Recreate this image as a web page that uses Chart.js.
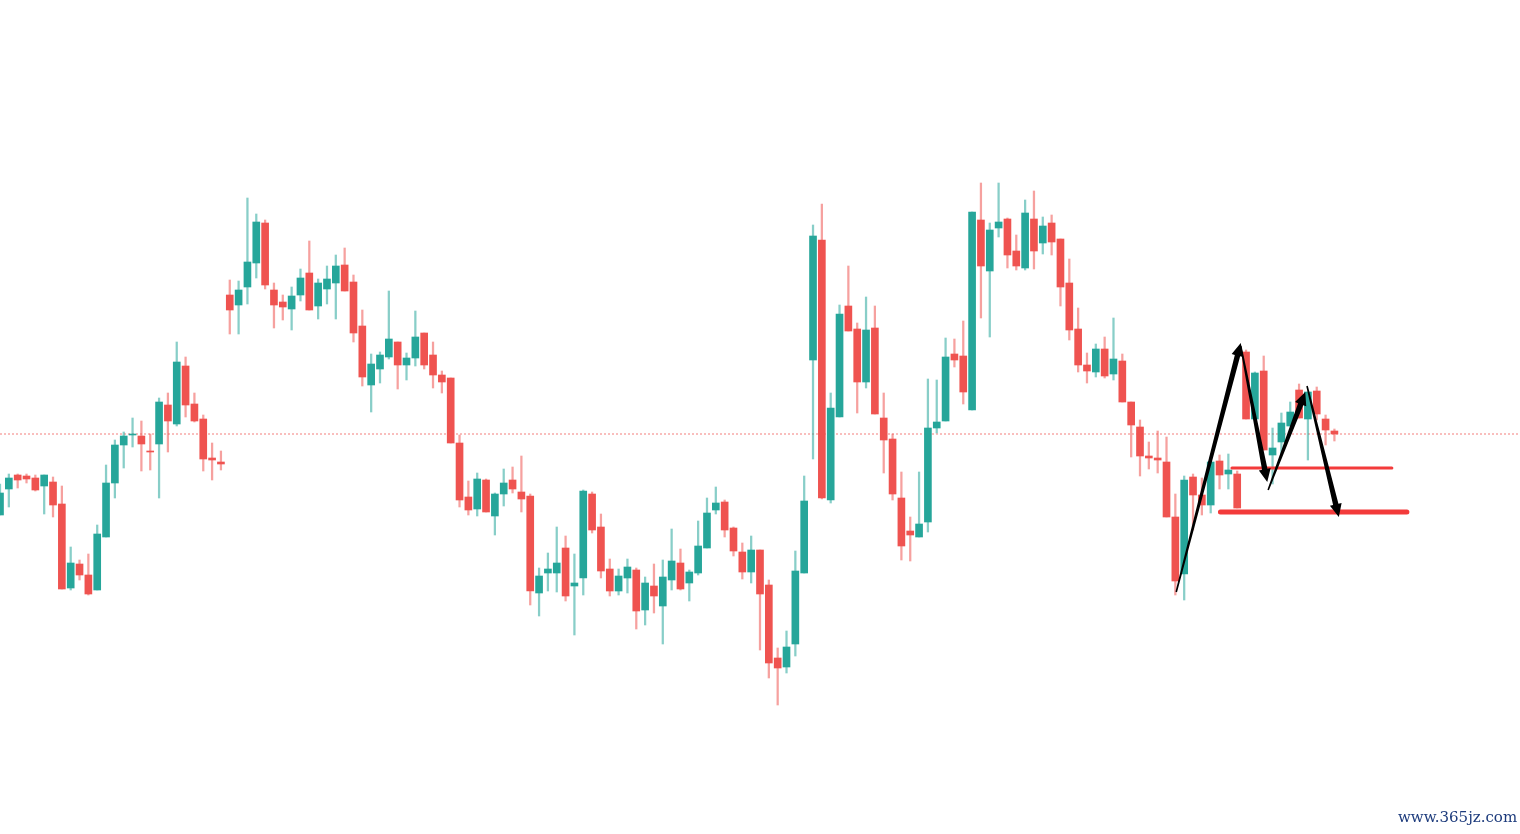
<!DOCTYPE html>
<html>
<head>
<meta charset="utf-8">
<script src="https://cdn.jsdelivr.net/npm/chart.js@4.4.1/dist/chart.umd.min.js"></script>
<style>
  html, body { margin: 0; padding: 0; background: #fff; }
  #wrap { position: relative; width: 1520px; height: 834px; }
  #mark { position: absolute; left: 1398px; top: 808px; font: 15px "DejaVu Serif", serif; color: #1d3b7c; }
</style>
</head>
<body>
<div id="wrap">
  <canvas id="candleChart" width="1520" height="834"></canvas>
  <div id="mark">www.365jz.com</div>
</div>
<script>
// candle values (arbitrary price units)
const opens = [319,345,359,358,356,348,352,330,246,270,259,244,297,351,389,399,398,383,390,429,
  410,468,430,415,376,372,539,529,547,571,611,544,532,525,539,561,528,545,551,569,
  552,508,449,465,477,492,469,476,501,479,459,456,391,337,325,354,318,340,354,342,
  338,241,261,261,286,248,256,340,307,265,243,256,264,224,248,228,254,271,251,261,
  286,324,332,306,282,262,284,249,176,167,190,261,474,594,334,417,528,505,452,506,
  416,395,336,303,297,312,406,413,480,478,424,614,563,606,615,583,566,615,591,611,
  595,551,505,469,462,485,460,473,432,407,378,376,372,317,260,357,339,329,373,360,
  360,482,415,463,379,392,408,444,415,443,415,403];
const closes = [341,356,354,355,344,359,329,245,271,259,240,300,351,389,398,400,390,382,432,413,
  472,429,413,375,374,370,524,544,572,612,549,529,527,538,556,524,551,555,568,543,
  501,457,470,479,495,469,476,497,469,459,452,391,334,324,355,322,340,351,345,335,
  243,258,265,271,238,251,343,304,263,243,258,267,223,251,238,257,273,245,262,288,
  321,331,304,283,262,284,240,171,166,187,263,333,598,336,426,520,503,452,504,420,
  394,340,288,299,310,406,412,477,474,442,622,568,604,612,579,568,621,583,608,592,
  547,504,469,463,485,458,475,432,409,378,376,374,317,253,354,339,329,372,359,364,
  326,415,461,384,386,411,422,416,442,420,404,400];
const highs = [350,360,360,360,359,359,357,348,287,274,280,309,369,394,402,416,413,400,436,441,
  492,477,441,419,391,383,554,553,636,620,614,551,539,547,565,593,555,568,579,586,
  559,524,480,482,543,492,481,523,501,492,463,456,399,353,361,355,341,365,367,378,
  340,266,281,307,298,280,344,342,320,275,265,275,266,257,270,274,305,285,264,313,
  336,347,334,307,291,298,284,254,186,203,283,358,609,630,441,529,568,511,537,528,
  441,400,362,317,362,455,454,496,495,513,622,651,611,651,616,599,634,643,617,619,
  595,575,526,481,490,497,516,480,432,414,392,403,397,340,358,360,356,377,379,380,
  363,484,462,478,406,421,432,450,442,447,419,405];
const lows = [319,327,346,351,343,320,317,245,244,254,239,244,297,336,366,387,363,364,336,382,
  408,417,412,363,354,364,500,500,530,556,545,506,514,504,533,524,515,530,515,543,
  492,448,422,451,475,445,454,468,465,446,441,391,327,319,318,322,299,328,341,322,
  229,218,243,242,233,199,239,301,256,238,239,241,205,209,221,190,244,244,233,259,
  286,320,297,278,255,251,184,156,129,161,178,261,375,335,331,417,503,421,446,420,
  361,334,274,273,297,302,401,413,467,430,424,516,497,597,566,564,564,565,580,579,
  528,494,462,451,457,456,454,432,377,358,365,361,317,239,234,304,319,321,345,345,
  326,415,414,384,350,379,408,416,374,414,389,393];

// x slots: the visible window holds 173 candle slots, only the first ones are filled
const slots = Array.from({ length: 173 }, (_, i) => String(i));
const lastPrice = 400;

// drawn annotations: [slot, price]
const arrowFrom = [[133.1, 242], [140.4, 488], [143.5, 344], [147.9, 448]];
const arrowTo = [[140.4, 491], [143.4, 352], [147.7, 442], [151.5, 317]];
const levelFrom = [[139.4, 366], [138.1, 322]];
const levelTo = [[157.5, 366], [159.2, 322]];
const levelWidth = [3, 5];

const UP = '#26a69a', DOWN = '#ef5350';
const UP_WICK = 'rgba(38,166,154,0.55)', DOWN_WICK = 'rgba(239,83,80,0.55)';

const isUp = (i) => closes[i] >= opens[i];

// tapered arrows with a head, placed through the chart's own scales
const arrowPlugin = {
  id: 'arrows',
  afterDatasetsDraw(chart) {
    const xs = chart.scales.xa, ys = chart.scales.y, ctx = chart.ctx;
    ctx.save();
    ctx.fillStyle = '#000';
    arrowFrom.forEach((a, k) => {
      const b = arrowTo[k];
      const x0 = xs.getPixelForValue(a[0]), y0 = ys.getPixelForValue(a[1]);
      const x1 = xs.getPixelForValue(b[0]), y1 = ys.getPixelForValue(b[1]);
      const len = Math.hypot(x1 - x0, y1 - y0);
      const dx = (x1 - x0) / len, dy = (y1 - y0) / len;
      const nx = -dy, ny = dx;
      const w0 = 1.6, w1 = 5.5, hl = 13, hw = 6;
      const sx = x1 - dx * hl, sy = y1 - dy * hl;
      ctx.beginPath();
      ctx.moveTo(x0 + nx * w0 / 2, y0 + ny * w0 / 2);
      ctx.lineTo(sx + nx * w1 / 2, sy + ny * w1 / 2);
      ctx.lineTo(sx + nx * hw, sy + ny * hw);
      ctx.lineTo(x1, y1);
      ctx.lineTo(sx - nx * hw, sy - ny * hw);
      ctx.lineTo(sx - nx * w1 / 2, sy - ny * w1 / 2);
      ctx.lineTo(x0 - nx * w0 / 2, y0 - ny * w0 / 2);
      ctx.closePath();
      ctx.fill();
    });
    ctx.restore();
  }
};

const levelSets = levelFrom.map((a, k) => ({
  type: 'line',
  xAxisID: 'xa',
  data: [{ x: a[0], y: a[1] }, { x: levelTo[k][0], y: levelTo[k][1] }],
  borderColor: '#f33b3b',
  borderWidth: levelWidth[k],
  borderCapStyle: 'round',
  pointRadius: 0,
  order: -1
}));

const ctx = document.getElementById('candleChart').getContext('2d');
new Chart(ctx, {
  type: 'bar',
  data: {
    labels: slots,
    datasets: [
      {
        label: 'price line',
        type: 'line',
        xAxisID: 'xa',
        data: [{ x: 0, y: lastPrice }, { x: 172, y: lastPrice }],
        borderColor: 'rgba(239,83,80,0.75)',
        borderWidth: 1,
        borderDash: [2, 2],
        pointRadius: 0,
        order: 3
      },
      {
        label: 'wick',
        data: lows.map((l, i) => [l, highs[i]]),
        backgroundColor: lows.map((_, i) => isUp(i) ? UP_WICK : DOWN_WICK),
        barThickness: 1.6,
        grouped: false,
        order: 2
      },
      {
        label: 'body',
        data: opens.map((o, i) => [o, closes[i]]),
        backgroundColor: opens.map((_, i) => isUp(i) ? UP : DOWN),
        barThickness: 7,
        grouped: false,
        order: 1
      },
      ...levelSets
    ]
  },
  options: {
    responsive: false,
    animation: false,
    devicePixelRatio: 1,
    layout: { padding: 0 },
    plugins: { legend: { display: false }, tooltip: { enabled: false } },
    scales: {
      x: { type: 'category', offset: false, display: false },
      xa: { type: 'linear', axis: 'x', min: 0, max: 172, offset: false, display: false },
      y: { min: 0, max: 834, display: false }
    }
  },
  plugins: [arrowPlugin]
});
</script>
</body>
</html>
